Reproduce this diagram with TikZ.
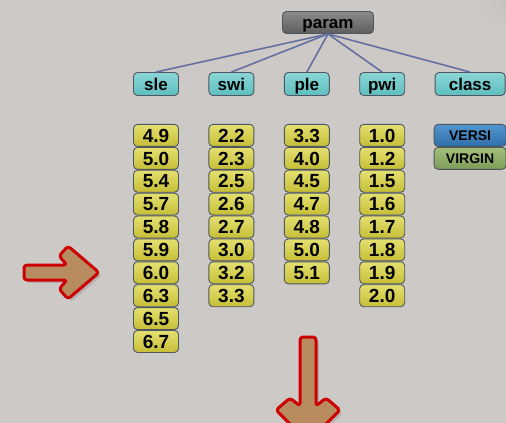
\documentclass[tikz,border=0pt]{standalone}
\usepackage{fontspec}
\setmainfont{Liberation Sans}
\usetikzlibrary{positioning,shadows}
\definecolor{bgcol}{HTML}{CDC9C7}
\definecolor{boxline}{HTML}{4E5660}
\definecolor{linkcol}{HTML}{6670A0}
\definecolor{arrowred}{HTML}{CC0000}
\definecolor{arrowtan}{HTML}{B88C60}
\definecolor{valtop}{HTML}{E4E070}
\definecolor{valbot}{HTML}{C6BE36}
\definecolor{headtop}{HTML}{8AD6D6}
\definecolor{headbot}{HTML}{5EBEBE}
\definecolor{paramtop}{HTML}{8A8A8A}
\definecolor{parambot}{HTML}{5E5E5E}
\definecolor{versitop}{HTML}{5294CC}
\definecolor{versibot}{HTML}{2F70AC}
\definecolor{virgintop}{HTML}{A4BE7C}
\definecolor{virginbot}{HTML}{7E9C58}

\begin{document}
\begin{tikzpicture}[x=1pt,y=-1pt,
      basebox/.style={
         rounded corners=4pt,
         draw=boxline,
         line width=0.9pt,
         inner sep=0pt,
         text height=12.2pt,
         text depth=0pt,
         font=\fontsize{17}{17}\selectfont\bfseries},
      parambox/.style={
         basebox,
         top color=paramtop,
         bottom color=parambot,
         minimum width=91pt,
         minimum height=22pt},
      headbox/.style={
         basebox,
         top color=headtop,
         bottom color=headbot,
         minimum width=45pt,
         minimum height=23pt},
      classbox/.style={headbox, minimum width=70pt},
      valbox/.style={
         basebox,
         top color=valtop,
         bottom color=valbot,
         minimum width=45pt,
         minimum height=22pt,
         text height=13.5pt,
         font=\fontsize{19}{19}\selectfont\bfseries},
      versibox/.style={
         basebox,
         top color=versitop,
         bottom color=versibot,
         minimum width=72pt,
         minimum height=22pt,
         text height=10pt,
         font=\fontsize{14}{14}\selectfont\bfseries},
      virginbox/.style={
         versibox,
         top color=virgintop,
         bottom color=virginbot},
      link/.style={draw=linkcol, line width=1.6pt},
      bigarrow/.style={
         draw=arrowred,
         fill=arrowtan,
         line width=3pt,
         rounded corners=3pt,
         line join=round,
         drop shadow={shadow xshift=3pt, shadow yshift=-3pt, opacity=0.3}},
      node distance=28pt and 29.5pt
      ]
      \useasboundingbox[fill=bgcol] (0,0) rectangle (506,423);
      \clip (0,0) rectangle (506,423);
      \shade[inner color=gray!60, outer color=bgcol, opacity=0.25] (506,0) circle (28);

      \node[parambox] (param) at (328,22.5) {param};
      \node[headbox] (sle) at (156,84) {sle};
      \node[headbox,right=of sle] (swi) {swi};
      \node[headbox,right=of swi] (ple) {ple};
      \node[headbox,right=of ple] (pwi) {pwi};
      \node[classbox,right=of pwi] (class) {class};

      \foreach \h in {sle,swi,ple,pwi,class}
        \draw [link] (param.south) -- (\h.north);

    \foreach \col/\vals in {% column/values
      sle/{4.9,5.0,5.4,5.7,5.8,5.9,6.0,6.3,6.5,6.7},
      swi/{2.2,2.3,2.5,2.6,2.7,3.0,3.2,3.3},
      ple/{3.3,4.0,4.5,4.7,4.8,5.0,5.1},
      pwi/{1.0,1.2,1.5,1.6,1.7,1.8,1.9,2.0}}{
      \foreach \v [count=\k, remember=\k as \j (initially 0)] in \vals {
        \ifnum\k=1
          \node[valbox,below=of \col] (\col\k) {\v};
        \else
          \node[valbox,below=0pt of \col\j] (\col\k) {\v};
        \fi
      }
    }

      \node[versibox,below=of class] (versi) {VERSI};
      \node[virginbox,below=0pt of versi] (virgin) {VIRGIN};

     % the two big arrows
     \path[bigarrow] (24,265) -- (67,265) -- (59,256) -- (68,246) -- (99,272.5)
        -- (68,299) -- (59,289) -- (67,280) -- (24,280) -- cycle;
     \path[bigarrow] (300,337) -- (316,337) -- (316,406) -- (326,398) -- (340,410)
        -- (308,442) -- (276,410) -- (290,398) -- (300,406) -- cycle;
    \end{tikzpicture}
\end{document}
